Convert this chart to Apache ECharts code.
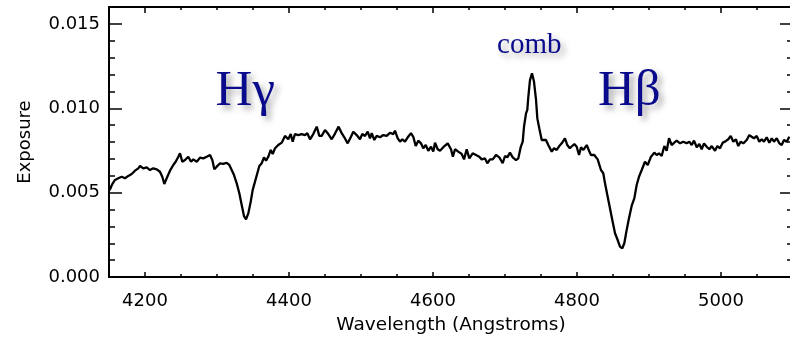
<!DOCTYPE html>
<html><head><meta charset="utf-8">
<script src="https://cdn.jsdelivr.net/npm/echarts@6/dist/echarts.min.js"></script>
<style>html,body{margin:0;padding:0;background:#fff}#c{width:790px;height:338px}</style>
</head><body><div id="c"></div>
<script>
// Wavelength (Angstroms)
const wavelength = [4151,4154.6,4158.3,4162.9,4167.6,4172.2,4176.8,4181.5,4186.1,4190.7,4193.1,4197.6,4202.4,4206.9,4211.5,4216.3,4220.8,4224.0,4226.8,4230.1,4234.7,4239.3,4242.6,4246.3,4248.6,4251.8,4255.6,4260.1,4263.9,4267.1,4271.8,4276.4,4281.0,4285.7,4290.3,4293.5,4296.3,4299.6,4304.2,4308.8,4313.5,4317.1,4320.4,4323.6,4327.4,4331.0,4334.3,4337.5,4340.3,4343.5,4346.8,4349.6,4352.8,4356.0,4358.8,4362.1,4365.3,4368.1,4371.3,4374.6,4377.4,4380.6,4385.1,4389.9,4394.4,4399.0,4402.4,4405.1,4408.3,4412.9,4417.6,4422.2,4425.4,4429.2,4433.7,4438.5,4442.1,4445.4,4450.0,4454.6,4459.3,4463.9,4468.9,4473.2,4476.8,4481.5,4486.1,4489.3,4494.0,4498.6,4501.8,4505.6,4509.3,4512.5,4514.9,4518.5,4521.8,4526.4,4531.0,4535.7,4540.3,4544.9,4547.2,4551.0,4554.2,4557.4,4561.1,4564.9,4569.4,4572.6,4576.0,4579.6,4583.3,4586.5,4589.9,4593.5,4597.2,4600.4,4602.8,4606.5,4609.7,4614.3,4620.4,4625.0,4627.6,4630.6,4635.1,4639.9,4643.1,4646.8,4650.4,4655.1,4659.7,4664.3,4667.6,4672.2,4675.4,4679.2,4682.9,4687.5,4692.1,4696.8,4700.0,4703.2,4706.9,4710.7,4715.3,4718.5,4721.8,4724.6,4726.4,4729.2,4731.0,4732.4,4734.7,4737.5,4740.3,4743.1,4744.9,4747.6,4751.0,4753.2,4756.9,4760.1,4764.9,4768.1,4771.8,4775.4,4778.8,4783.3,4786.5,4790.0,4796.3,4799.6,4802.8,4805.6,4808.8,4813.5,4816.7,4819.4,4824.0,4828.7,4833.3,4836.5,4838.9,4842.6,4845.8,4849.0,4852.8,4856.5,4859.7,4862.9,4865.7,4869.0,4872.2,4875.9,4879.6,4882.9,4886.1,4889.9,4894.4,4898.2,4902.8,4907.4,4910.7,4913.9,4917.6,4921.3,4924.6,4927.8,4931.5,4935.1,4938.5,4943.1,4947.6,4952.2,4956.0,4959.3,4962.5,4966.3,4969.9,4973.2,4976.4,4980.1,4983.8,4987.1,4991.7,4994.9,4998.6,5002.4,5005.6,5010.1,5013.5,5017.1,5020.8,5024.0,5027.4,5031.0,5035.7,5039.3,5042.6,5045.8,5049.6,5053.2,5056.5,5059.7,5063.5,5067.1,5070.4,5073.6,5077.4,5081.0,5084.3,5087.5,5091.3,5094.9];
// Exposure in units of 0.001
const exposure = [5.16,5.51,5.75,5.85,5.94,5.85,5.99,6.10,6.30,6.44,6.58,6.44,6.50,6.34,6.44,6.38,6.24,5.94,5.51,5.85,6.30,6.64,6.83,7.13,7.33,6.83,6.93,7.13,6.83,6.97,6.83,7.07,7.03,7.13,7.23,6.93,6.38,6.54,6.74,6.70,6.77,6.64,6.34,6.04,5.55,4.96,4.27,3.61,3.42,3.77,4.46,5.16,5.65,6.15,6.58,6.74,7.09,6.89,7.13,7.53,7.29,7.63,7.82,7.96,8.36,8.16,8.47,8.02,8.47,8.41,8.47,8.41,8.52,8.16,8.47,8.91,8.36,8.36,8.71,8.47,8.16,8.50,8.91,8.52,8.28,7.92,8.31,8.61,8.41,8.16,8.47,8.36,8.61,8.22,8.52,8.12,8.36,8.28,8.41,8.36,8.55,8.47,8.67,8.22,8.02,8.16,8.02,8.28,8.52,8.31,7.76,8.08,7.92,7.63,7.82,7.48,7.72,7.43,7.96,7.57,7.48,7.69,7.92,7.57,7.13,7.57,7.43,7.29,6.97,7.57,7.03,7.33,7.23,7.13,6.97,7.03,6.74,6.97,6.97,7.23,7.09,6.74,7.17,7.09,7.37,7.09,6.93,7.03,7.69,8.02,8.91,9.70,9.90,10.68,11.67,12.07,11.57,10.49,9.40,8.81,8.12,8.02,8.12,7.82,7.43,7.63,7.53,7.76,7.92,8.22,7.82,7.63,7.88,7.72,7.23,7.69,7.53,7.82,7.48,7.23,7.23,6.97,6.34,6.15,5.55,4.76,4.07,3.38,2.59,2.19,1.80,1.70,2.00,2.79,3.48,4.21,4.66,5.45,5.94,6.34,6.83,6.64,7.13,7.37,7.23,7.33,7.17,7.76,7.48,8.22,7.82,7.96,8.08,7.92,8.02,7.92,8.02,7.82,8.08,7.69,7.88,7.57,7.92,7.72,7.57,7.76,7.48,7.76,7.63,7.96,8.02,8.16,8.36,8.02,8.16,7.76,8.02,7.92,8.12,8.41,8.31,8.22,8.36,8.02,8.16,8.02,8.28,7.96,8.22,8.02,8.22,7.92,7.82,8.12,8.02,8.31];
const xMajorTicks = [4200,4400,4600,4800,5000];
const xMinorTicks = [4150,4250,4300,4350,4450,4500,4550,4650,4700,4750,4850,4900,4950,5050];
const yMajorTicks = [0,0.005,0.010,0.015];
const yMinorTicks = [0.001,0.002,0.003,0.004,0.006,0.007,0.008,0.009,0.011,0.012,0.013,0.014,0.016];
const xRange = [4150,5100];
const yRange = [0,0.016];
const annotations = [
  {text:'Hγ', x:4298, y:0.0110, size:51},
  {text:'Hβ', x:4829, y:0.0110, size:51},
  {text:'comb', x:4689, y:0.0137, size:29}
];

const seriesData = wavelength.map((w,i)=>[w, exposure[i]/1000]);
const tickFont = {fontFamily:'DejaVu Sans', fontSize:18, color:'#000'};

function xAx(pos, ticks, len, labels, line){
  return {type:'value', position:pos, min:xRange[0], max:xRange[1], gridIndex:0,
    axisLine:{show:line, onZero:false, lineStyle:{color:'#000', width:2}},
    splitLine:{show:false},
    axisTick:{show:true, inside:true, length:len, customValues:ticks, lineStyle:{color:'#000', width:1.5}},
    axisLabel:labels ? Object.assign({show:true, customValues:ticks, margin:15, formatter:v=>String(v)}, tickFont) : {show:false}
  };
}
function yAx(pos, ticks, len, labels, line){
  return {type:'value', position:pos, min:yRange[0], max:yRange[1], gridIndex:0,
    axisLine:{show:line, onZero:false, lineStyle:{color:'#000', width:2}},
    splitLine:{show:false},
    axisTick:{show:true, inside:true, length:len, customValues:ticks, lineStyle:{color:'#000', width:1.5}},
    axisLabel:labels ? Object.assign({show:true, customValues:ticks, margin:9, formatter:v=>v.toFixed(3)}, tickFont) : {show:false}
  };
}
const xAxes = [
  xAx('bottom', xMajorTicks, 5, true, true),
  xAx('bottom', xMinorTicks, 3, false, false),
  xAx('top', xMajorTicks, 6, false, true),
  xAx('top', xMinorTicks, 3, false, false)
];
xAxes[0].name = 'Wavelength (Angstroms)';
xAxes[0].nameLocation = 'middle';
xAxes[0].nameGap = 39;
xAxes[0].nameTextStyle = {fontFamily:'DejaVu Sans', fontSize:18.5, color:'#000'};
const yAxes = [
  yAx('left', yMajorTicks, 13, true, true),
  yAx('left', yMinorTicks, 6, false, false),
  yAx('right', yMajorTicks, 13, false, true),
  yAx('right', yMinorTicks, 6, false, false)
];
yAxes[0].name = 'Exposure';
yAxes[0].nameLocation = 'middle';
yAxes[0].nameGap = 75;
yAxes[0].nameTextStyle = {fontFamily:'DejaVu Sans', fontSize:18, color:'#000'};

const chart = echarts.init(document.getElementById('c'), null, {renderer:'canvas'});
chart.setOption({
  animation:false,
  backgroundColor:'#fff',
  grid:{left:109, top:7, right:-3, bottom:61, containLabel:false, outerBoundsMode:'none'},
  xAxis:xAxes,
  yAxis:yAxes,
  series:[{
    type:'line', xAxisIndex:0, yAxisIndex:0, data:seriesData, showSymbol:false,
    lineStyle:{color:'#000', width:2.3}, clip:true, silent:true
  }]
});
// annotations placed at data coordinates
const g = annotations.map(a=>{
  const p = chart.convertToPixel({xAxisIndex:0, yAxisIndex:0}, [a.x, a.y]);
  return {type:'text', x:p[0], y:p[1], style:{text:a.text, fontFamily:'Liberation Serif', fontSize:a.size,
    fill:'#0a0a8c', align:'left', verticalAlign:'middle',
    textShadowColor:'rgba(0,0,0,0.35)', textShadowBlur:6, textShadowOffsetX:4, textShadowOffsetY:4}};
});
chart.setOption({graphic:g});
</script></body></html>
